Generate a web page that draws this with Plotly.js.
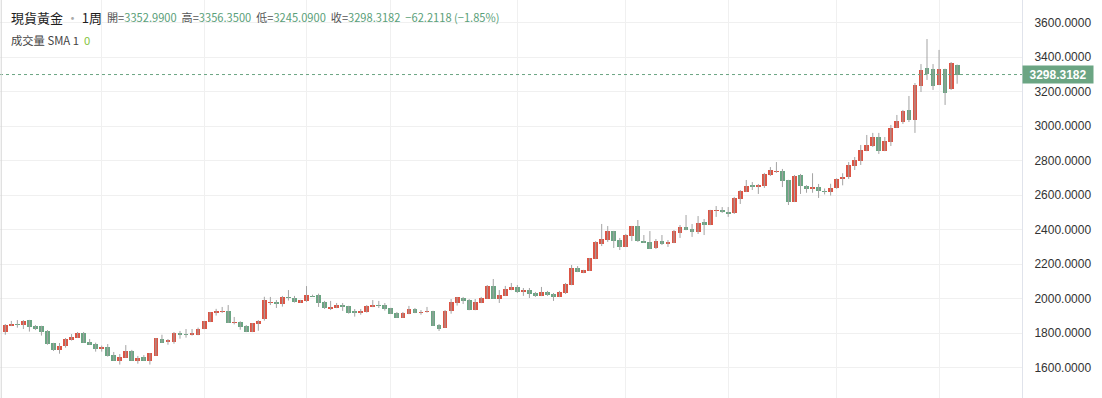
<!DOCTYPE html>
<html>
<head>
<meta charset="utf-8">
<script src="https://cdn.plot.ly/plotly-3.0.1.min.js"></script>
<style>
  html, body { margin: 0; padding: 0; background: #ffffff; }
  #chart { width: 1102px; height: 398px; }
</style>
</head>
<body>
<div id="chart"></div>
<script>
// Weekly bars of spot gold (現貨黃金)
const dates = [
  '2022-05-16','2022-05-23','2022-05-30','2022-06-06','2022-06-13','2022-06-20','2022-06-27','2022-07-04','2022-07-11','2022-07-18',
  '2022-07-25','2022-08-01','2022-08-08','2022-08-15','2022-08-22','2022-08-29','2022-09-05','2022-09-12','2022-09-19','2022-09-26',
  '2022-10-03','2022-10-10','2022-10-17','2022-10-24','2022-10-31','2022-11-07','2022-11-14','2022-11-21','2022-11-28','2022-12-05',
  '2022-12-12','2022-12-19','2022-12-26','2023-01-02','2023-01-09','2023-01-16','2023-01-23','2023-01-30','2023-02-06','2023-02-13',
  '2023-02-20','2023-02-27','2023-03-06','2023-03-13','2023-03-20','2023-03-27','2023-04-03','2023-04-10','2023-04-17','2023-04-24',
  '2023-05-01','2023-05-08','2023-05-15','2023-05-22','2023-05-29','2023-06-05','2023-06-12','2023-06-19','2023-06-26','2023-07-03',
  '2023-07-10','2023-07-17','2023-07-24','2023-07-31','2023-08-07','2023-08-14','2023-08-21','2023-08-28','2023-09-04','2023-09-11',
  '2023-09-18','2023-09-25','2023-10-02','2023-10-09','2023-10-16','2023-10-23','2023-10-30','2023-11-06','2023-11-13','2023-11-20',
  '2023-11-27','2023-12-04','2023-12-11','2023-12-18','2023-12-25','2024-01-01','2024-01-08','2024-01-15','2024-01-22','2024-01-29',
  '2024-02-05','2024-02-12','2024-02-19','2024-02-26','2024-03-04','2024-03-11','2024-03-18','2024-03-25','2024-04-01','2024-04-08',
  '2024-04-15','2024-04-22','2024-04-29','2024-05-06','2024-05-13','2024-05-20','2024-05-27','2024-06-03','2024-06-10','2024-06-17',
  '2024-06-24','2024-07-01','2024-07-08','2024-07-15','2024-07-22','2024-07-29','2024-08-05','2024-08-12','2024-08-19','2024-08-26',
  '2024-09-02','2024-09-09','2024-09-16','2024-09-23','2024-09-30','2024-10-07','2024-10-14','2024-10-21','2024-10-28','2024-11-04',
  '2024-11-11','2024-11-18','2024-11-25','2024-12-02','2024-12-09','2024-12-16','2024-12-23','2024-12-30','2025-01-06','2025-01-13',
  '2025-01-20','2025-01-27','2025-02-03','2025-02-10','2025-02-17','2025-02-24','2025-03-03','2025-03-10','2025-03-17','2025-03-24',
  '2025-03-31','2025-04-07','2025-04-14','2025-04-21','2025-04-28','2025-05-05','2025-05-12','2025-05-19','2025-05-26'
];

const opens = [
  1806,1842,1852,1848,1875,1841,1841,1812,1742,1703,
  1727,1761,1773,1800,1750,1738,1709,1719,1672,1640,
  1657,1696,1640,1661,1640,1669,1765,1748,1748,1802,
  1794,1788,1788,1823,1864,1916,1924,1928,1860,1862,
  1841,1806,1852,1882,1976,1980,1970,2011,2003,1976,
  1986,2017,2021,1980,1939,1945,1962,1957,1928,1916,
  1922,1951,1964,1962,1945,1916,1889,1910,1939,1918,
  1924,1928,1846,1831,1930,1974,2003,1991,1933,1974,
  1999,2073,1999,2015,2049,2067,2038,2049,2032,2015,
  2038,2026,2009,2032,2078,2177,2148,2160,2229,2316,
  2339,2391,2339,2299,2362,2420,2333,2328,2293,2333,
  2316,2322,2380,2415,2403,2386,2444,2426,2507,2513,
  2501,2496,2577,2618,2658,2646,2652,2716,2733,2739,
  2687,2560,2716,2650,2633,2648,2622,2618,2640,2690,
  2703,2768,2797,2855,2884,2936,2855,2907,2989,3023,
  3093,3035,3232,3336,3331,3238,3331,3215,3352.99
];
const highs = [
  1852,1870,1875,1875,1876,1846,1842,1817,1743,1742,
  1771,1794,1806,1806,1765,1744,1727,1736,1690,1678,
  1730,1702,1667,1672,1684,1771,1790,1765,1806,1812,
  1823,1823,1831,1870,1922,1940,1951,1962,1893,1868,
  1846,1858,1875,2010,2009,1991,2015,2049,2015,1992,
  2072,2022,2028,1986,1986,1974,1974,1958,1939,1939,
  1962,1991,1986,1974,1946,1922,1922,1957,1945,1933,
  1951,1929,1852,1933,1997,2009,2009,1997,1997,2009,
  2078,2113,2049,2073,2090,2078,2061,2061,2038,2067,
  2044,2032,2044,2090,2194,2188,2166,2235,2333,2432,
  2420,2392,2351,2374,2421,2455,2368,2391,2345,2368,
  2339,2397,2426,2484,2432,2478,2461,2514,2536,2530,
  2530,2589,2629,2687,2675,2664,2728,2762,2791,2751,
  2688,2716,2722,2657,2726,2664,2638,2665,2697,2726,
  2791,2820,2890,2948,2960,2960,2936,3006,3064,3093,
  3174,3249,3359,3504,3359,3441,3332,3371,3356.35
];
const lows = [
  1790,1840,1831,1823,1808,1817,1785,1732,1696,1680,
  1715,1756,1771,1743,1731,1692,1692,1663,1639,1617,
  1656,1639,1622,1639,1617,1668,1743,1732,1738,1767,
  1773,1785,1787,1822,1863,1901,1916,1858,1850,1819,
  1805,1805,1813,1872,1962,1945,1953,1988,1976,1975,
  1980,2010,1951,1939,1933,1944,1928,1912,1895,1906,
  1918,1950,1945,1930,1910,1888,1888,1909,1915,1906,
  1918,1842,1812,1830,1912,1959,1968,1932,1932,1973,
  1998,1998,1974,2014,2048,2032,2015,2003,2009,2014,
  2015,1986,2008,2026,2077,2153,2147,2159,2228,2304,
  2328,2293,2281,2298,2333,2328,2322,2287,2287,2310,
  2299,2321,2351,2396,2357,2374,2368,2425,2473,2496,
  2473,2490,2548,2617,2629,2606,2641,2710,2728,2646,
  2542,2559,2606,2613,2613,2583,2603,2597,2636,2656,
  2693,2745,2774,2854,2878,2838,2854,2884,2988,3012,
  3023,2960,3197,3267,3209,3237,3122,3209,3245.09
];
const closes = [
  1846,1854,1848,1870,1835,1825,1806,1738,1702,1725,
  1765,1777,1800,1744,1732,1709,1719,1669,1640,1661,
  1696,1640,1655,1640,1684,1771,1744,1760,1802,1790,
  1790,1800,1825,1870,1922,1928,1928,1859,1864,1835,
  1806,1857,1870,1991,1980,1970,2009,2005,1980,1991,
  2020,2011,1976,1945,1951,1962,1953,1916,1916,1928,
  1957,1962,1959,1939,1910,1889,1916,1939,1916,1924,
  1930,1843,1823,1928,1980,2009,1986,1933,1980,2003,
  2073,1999,2020,2055,2067,2038,2049,2026,2015,2038,
  2020,2009,2038,2084,2177,2154,2165,2235,2328,2346,
  2391,2333,2299,2368,2420,2333,2322,2287,2333,2316,
  2328,2391,2415,2397,2386,2438,2426,2513,2513,2501,
  2490,2583,2623,2652,2646,2658,2722,2745,2739,2681,
  2560,2710,2652,2633,2648,2622,2618,2640,2690,2703,
  2774,2803,2861,2890,2936,2855,2913,2989,3029,3087,
  3035,3238,3325,3302,3232,3331,3191,3365,3298.3182
];

// header texts
const symbolName = '現貨黃金';
const intervalName = '1周';
const changeText = '−62.2118 (−1.85%)';
const volumeLabel = '成交量 SMA 1';
const volumeValue = '0';

// first weekly bar of each labelled period (vertical grid lines)
const gridDates = ['2022-09-05','2023-01-02','2023-05-01','2023-08-07','2024-01-01','2024-05-06','2024-09-02','2025-01-06','2025-05-05'];
const yTicks = [1600, 1800, 2000, 2200, 2400, 2600, 2800, 3000, 3200, 3400, 3600];

const UP = '#dc5545';
const DOWN = '#6ba583';
const WICK = '#a3a3a3';

const last = closes.length - 1;

// wicks
const wx = [], wy = [];
for (let i = 0; i < dates.length; i++) {
  wx.push(dates[i], dates[i], null);
  wy.push(lows[i], highs[i], null);
}
// bodies
const bBase = [], bLen = [], bCol = [];
for (let i = 0; i < dates.length; i++) {
  const lo = Math.min(opens[i], closes[i]);
  const hi = Math.max(opens[i], closes[i]);
  bBase.push(lo);
  bLen.push(Math.max(hi - lo, 4));
  bCol.push(closes[i] >= opens[i] ? UP : DOWN);
}

const WEEK = 7 * 24 * 3600 * 1000;

const traces = [
  { type: 'scatter', mode: 'lines', x: wx, y: wy, connectgaps: false,
    line: { color: WICK, width: 1 }, hoverinfo: 'skip', showlegend: false },
  { type: 'bar', x: dates, y: bLen, base: bBase, width: WEEK * 0.8,
    marker: { color: bCol, line: { width: 0 } }, hoverinfo: 'skip', showlegend: false }
];

const lbl = '#555555', val = '#5aa079';
const stats =
  `<span style="color:${lbl}">開=</span><span style="color:${val}">${opens[last].toFixed(4)}</span>  ` +
  `<span style="color:${lbl}">高=</span><span style="color:${val}">${highs[last].toFixed(4)}</span>  ` +
  `<span style="color:${lbl}">低=</span><span style="color:${val}">${lows[last].toFixed(4)}</span>  ` +
  `<span style="color:${lbl}">收=</span><span style="color:${val}">${closes[last].toFixed(4)}  ${changeText}</span>`;

const layout = {
  width: 1102, height: 398,
  margin: { l: 0, r: 80, t: 0, b: 0 },
  paper_bgcolor: '#ffffff', plot_bgcolor: '#ffffff',
  font: { family: 'Liberation Sans, Arial, sans-serif', color: '#333333', size: 12 },
  bargap: 0, barmode: 'overlay',
  showlegend: false,
  xaxis: {
    type: 'date',
    range: ['2022-05-09 20:00', '2025-08-09 09:00'],
    tickvals: gridDates, showticklabels: false, ticks: '',
    showgrid: true, gridcolor: '#f0f0f0', gridwidth: 1,
    zeroline: false, showline: false, fixedrange: true
  },
  yaxis: {
    side: 'right', range: [1423.2, 3730.4],
    tickvals: yTicks, tickformat: '.4f', ticks: '',
    ticklabelstandoff: 9,
    tickfont: { size: 12, color: '#333333' },
    showgrid: true, gridcolor: '#f0f0f0', gridwidth: 1,
    zeroline: false, showline: true, linecolor: '#e0e3eb', linewidth: 1, fixedrange: true
  },
  shapes: [
    { type: 'line', xref: 'paper', yref: 'y', x0: 0, x1: 1, y0: closes[last], y1: closes[last],
      line: { color: DOWN, width: 1, dash: 'dot' } },
    { type: 'line', xref: 'paper', yref: 'paper', x0: 0.0012, x1: 0.0012, y0: 0, y1: 1,
      line: { color: '#d6d6d6', width: 1 } }
  ],
  annotations: [
    { xref: 'paper', yref: 'paper', x: 9 / 1022, y: 1 - 17 / 398, xanchor: 'left', yanchor: 'middle',
      showarrow: false, text: symbolName + ' <span style="color:#aaaaaa">·</span> ' + intervalName,
      font: { family: 'Noto Sans CJK TC, sans-serif', size: 13, color: '#1e1e1e' } },
    { xref: 'paper', yref: 'paper', x: 105 / 1022, y: 1 - 17 / 398, xanchor: 'left', yanchor: 'middle',
      showarrow: false, text: stats,
      font: { family: 'Noto Sans CJK TC, sans-serif', size: 11.1, color: lbl } },
    { xref: 'paper', yref: 'paper', x: 9 / 1022, y: 1 - 40 / 398, xanchor: 'left', yanchor: 'middle',
      showarrow: false,
      text: volumeLabel + '  <span style="color:#86c440">' + volumeValue + '</span>',
      font: { family: 'Noto Sans CJK TC, sans-serif', size: 11.3, color: '#444444' } },
    { xref: 'paper', yref: 'y', x: 1, y: closes[last], xanchor: 'left', yanchor: 'middle',
      showarrow: false, text: '<b>' + closes[last].toFixed(4) + '</b>',
      bgcolor: DOWN, borderpad: 2, width: 66, height: 13, align: 'center',
      font: { family: 'Liberation Sans, Arial, sans-serif', size: 12, color: '#ffffff' } }
  ]
};

Plotly.newPlot('chart', traces, layout, { staticPlot: true, displayModeBar: false });
</script>
</body>
</html>
